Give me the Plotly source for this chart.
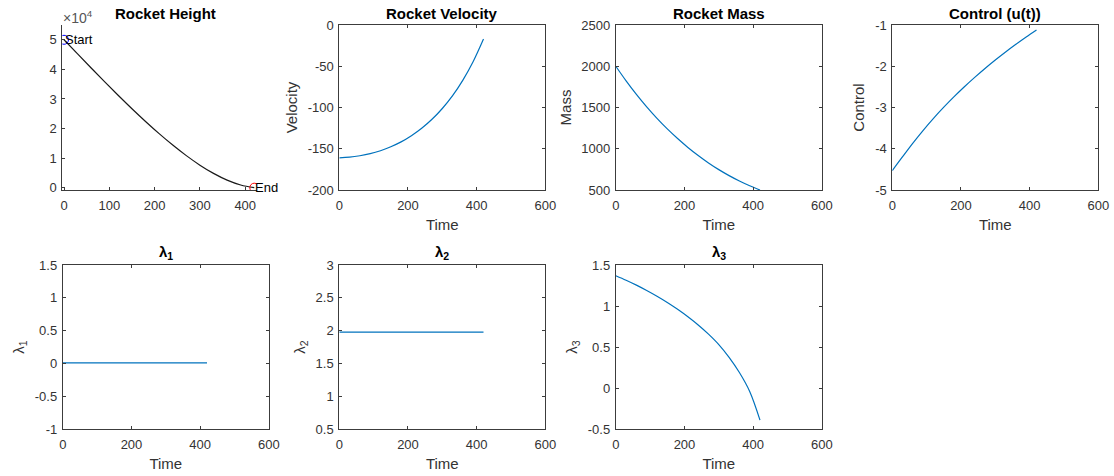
import plotly.graph_objects as go

# ---------------- data ----------------
time = [0, 30, 60, 90, 120, 150, 180, 210, 240, 270, 300, 330, 360, 390, 420]
height = [50000, 45212, 40460, 35771, 31174, 26702, 22389, 18276, 14409, 10838,
          7625, 4840, 2568, 913, 0]
velocity = [-161, -160.2, -158.5, -156.0, -152.4, -147.6, -141.7, -134.2, -125.2,
            -114.3, -101.2, -85.6, -66.8, -44.2, -17]
mass = [2000, 1823, 1659, 1508, 1369, 1241, 1124, 1016, 918, 828, 747, 674,
        609, 551, 500]
control = [-4.53, -4.193, -3.863, -3.553, -3.263, -2.993, -2.738, -2.498, -2.27,
           -2.054, -1.849, -1.654, -1.468, -1.29, -1.12]
lambda1 = [0.01] * len(time)
lambda2 = [1.98] * len(time)
lambda3 = [1.37, 1.315, 1.255, 1.19, 1.12, 1.044, 0.961, 0.87, 0.77, 0.658, 0.531,
           0.376, 0.191, -0.039, -0.389]

start_point = (0, 50000)
end_point = (420, 0)

# tick values / labels
height_xticks = [0, 100, 200, 300, 400]
height_yticks = [0, 10000, 20000, 30000, 40000, 50000]
height_yticktext = ["0", "1", "2", "3", "4", "5"]
time_ticks = [0, 200, 400, 600]
velocity_ticks = [-200, -150, -100, -50, 0]
mass_ticks = [500, 1000, 1500, 2000, 2500]
control_ticks = [-5, -4, -3, -2, -1]
lambda1_ticks = [-1, -0.5, 0, 0.5, 1, 1.5]
lambda2_ticks = [0.5, 1, 1.5, 2, 2.5, 3]
lambda3_ticks = [-0.5, 0, 0.5, 1, 1.5]

titles = ["<b>Rocket Height</b>", "<b>Rocket Velocity</b>", "<b>Rocket Mass</b>",
          "<b>Control (u(t))</b>", "<b>λ<sub>1</sub></b>", "<b>λ<sub>2</sub></b>",
          "<b>λ<sub>3</sub></b>"]
ylabels = ["", "Velocity", "Mass", "Control", "λ<sub>1</sub>", "λ<sub>2</sub>",
           "λ<sub>3</sub>"]


def fmt(v):
    return "{:g}".format(v)


# ---------------- layout geometry ----------------
W, H = 1114, 476
BLUE = "#0072BD"
AX = "#3c3c3c"
TXT = "#333333"
FONT = "Liberation Sans, Arial, sans-serif"

lefts = [62.8, 339.3, 615.8, 892.3, 62.8, 339.3, 615.8]
width = 206
rows = [(25, 190), (25, 190), (25, 190), (25, 190), (265, 429.3), (265, 429.3), (265, 429.3)]
yticklists = [None, velocity_ticks, mass_ticks, control_ticks,
              lambda1_ticks, lambda2_ticks, lambda3_ticks]

fig = go.Figure()

series = [height, velocity, mass, control, lambda1, lambda2, lambda3]
layout = {}
annotations = []
for i in range(7):
    n = "" if i == 0 else str(i + 1)
    top, bot = rows[i]
    if i == 0:
        xd = [62.3 / W, 257 / W]
    else:
        xd = [lefts[i] / W, (lefts[i] + width) / W]
    yd = [(H - bot) / H, (H - top) / H]
    color = "#1a1a1a" if i == 0 else BLUE
    fig.add_trace(go.Scatter(x=time, y=series[i], mode="lines",
                             line=dict(color=color, width=1.2, shape="spline"),
                             xaxis="x" + n, yaxis="y" + n, showlegend=False))
    common = dict(showgrid=False, zeroline=False, automargin=False,
                  showline=True, linecolor=AX, linewidth=1, ticks="inside",
                  ticklen=3, tickcolor=AX,
                  tickfont=dict(size=13, color=TXT, family=FONT))
    xa = dict(domain=xd, anchor="y" + n, ticklabelstandoff=3, **common)
    ya = dict(domain=yd, anchor="x" + n, ticklabelstandoff=2, **common)
    if i == 0:
        xa.update(range=[-3.75, 426], tickmode="array", tickvals=height_xticks,
                  ticktext=[fmt(v) for v in height_xticks])
        ya.update(range=[-780, 55000], tickmode="array", tickvals=height_yticks,
                  ticktext=height_yticktext)
    else:
        yt = yticklists[i]
        xa.update(range=[0, 600], tickmode="array", tickvals=time_ticks,
                  ticktext=[fmt(v) for v in time_ticks], mirror="ticks",
                  title=dict(text="Time", font=dict(size=15, color=TXT, family=FONT),
                             standoff=7))
        ya.update(range=[yt[0], yt[-1]], tickmode="array", tickvals=yt,
                  ticktext=[fmt(v) for v in yt], mirror="ticks",
                  title=dict(text=ylabels[i], font=dict(size=15, color=TXT, family=FONT),
                             standoff=6))
    layout["xaxis" + n] = xa
    layout["yaxis" + n] = ya
    cx = (lefts[i] + width / 2) / W
    annotations.append(dict(text=titles[i], x=cx, y=(H - top + 1) / H,
                            xref="paper", yref="paper", xanchor="center", yanchor="bottom",
                            showarrow=False, font=dict(size=15, color="#000", family=FONT)))

# markers for start / end on the height panel
fig.add_trace(go.Scatter(x=[start_point[0]], y=[start_point[1]], mode="markers",
                         marker=dict(symbol="circle-open", size=9, color="#0000FF",
                                     line=dict(width=1)),
                         xaxis="x", yaxis="y", showlegend=False))
fig.add_trace(go.Scatter(x=[end_point[0]], y=[end_point[1]], mode="markers",
                         marker=dict(symbol="circle-open", size=9, color="#FF0000",
                                     line=dict(width=1)),
                         xaxis="x", yaxis="y", showlegend=False))
annotations.append(dict(text="Start", x=start_point[0], y=start_point[1], xref="x", yref="y",
                        xanchor="left", yanchor="middle", showarrow=False, xshift=-1,
                        font=dict(size=13, color="#000", family=FONT)))
annotations.append(dict(text="End", x=end_point[0], y=end_point[1], xref="x", yref="y",
                        xanchor="left", yanchor="middle", showarrow=False, xshift=-1,
                        font=dict(size=13, color="#000", family=FONT)))
annotations.append(dict(text="×10<sup>4</sup>", x=61 / W, y=(H - 28) / H, xref="paper",
                        yref="paper", xanchor="left", yanchor="bottom", showarrow=False,
                        font=dict(size=14, color="#555", family=FONT)))

fig.update_layout(width=W, height=H, margin=dict(l=0, r=0, t=0, b=0),
                  paper_bgcolor="white", plot_bgcolor="white",
                  font=dict(family=FONT, color=TXT),
                  annotations=annotations, **layout)

fig.write_html("out.html", config={"displayModeBar": False},
               post_script="document.body.style.margin='0';document.body.style.overflow='hidden';")
